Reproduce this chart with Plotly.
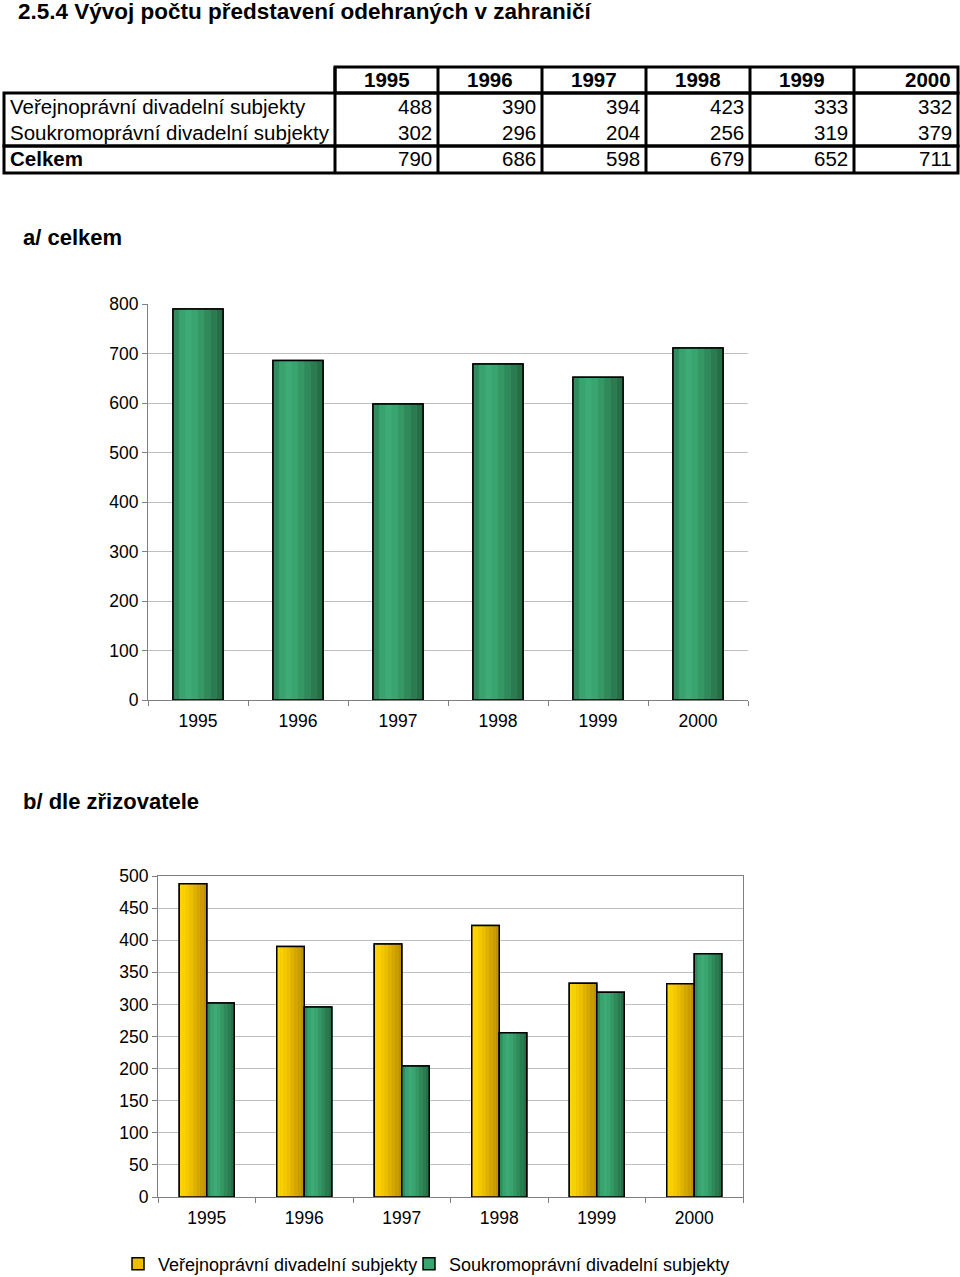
import plotly.graph_objects as go

# data
years = ["1995", "1996", "1997", "1998", "1999", "2000"]
verejne = [488, 390, 394, 423, 333, 332]
soukrome = [302, 296, 204, 256, 319, 379]
celkem = [790, 686, 598, 679, 652, 711]
row_labels = ["Veřejnoprávní divadelní subjekty", "Soukromoprávní divadelní subjekty", "Celkem"]

W, H = 960, 1277
FONT = "Liberation Sans, Arial, sans-serif"
# colour slices to fake the shaded bars (left -> right)
GREEN_SHADES = ["#2F8C5C", "#39A26E", "#3EAB76", "#3AA470", "#349764", "#2F895A", "#2B7B50", "#276E47"]
YELLOW_SHADES = ["#FFD500", "#FBD000", "#F4C800", "#EBBE00", "#E0B200", "#D4A700", "#C89C02", "#BC9104"]


def px(x):
    return x / W


def py(y):
    return 1 - y / H


fig = go.Figure()


def shaded_bar(x, y, offset, width, shades, xa, ya, name=None, legend=None):
    n = len(shades)
    # base (used for the legend)
    fig.add_trace(go.Bar(x=x, y=y, offset=offset, width=width, name=name, showlegend=legend is not None,
                         legend=legend or "legend",
                         marker=dict(color=shades[n // 2 - 1], line=dict(color="black", width=1.5)),
                         xaxis=xa, yaxis=ya, hoverinfo="skip"))
    for i, c in enumerate(shades):
        fig.add_trace(go.Bar(x=x, y=y, offset=offset + width * i / n, width=width / n, showlegend=False,
                             marker=dict(color=c, line=dict(width=0)), xaxis=xa, yaxis=ya, hoverinfo="skip"))
    fig.add_trace(go.Bar(x=x, y=y, offset=offset, width=width, showlegend=False, name=name,
                         marker=dict(color="rgba(0,0,0,0)", line=dict(color="black", width=1.5)),
                         xaxis=xa, yaxis=ya))


# a/ celkem
shaded_bar(years, celkem, -0.25, 0.5, GREEN_SHADES, "x", "y")

# b/ dle zrizovatele
bw = 0.282
shaded_bar(years, verejne, -bw, bw, YELLOW_SHADES, "x2", "y2", row_labels[0], "legend")
shaded_bar(years, soukrome, 0, bw, GREEN_SHADES, "x2", "y2", row_labels[1], "legend2")

axis_common = dict(tickfont=dict(size=17.5, color="black", family=FONT), linecolor="#808080", linewidth=1,
                   ticks="outside", ticklen=5, tickcolor="#808080", fixedrange=True)
leg_common = dict(orientation="h", xanchor="left", yref="container", y=1 - 1264 / H, yanchor="middle",
                  font=dict(size=18, family=FONT, color="black"), itemwidth=30, bgcolor="rgba(0,0,0,0)")

fig.update_layout(
    width=W, height=H, margin=dict(l=0, r=0, t=0, b=0, autoexpand=False),
    paper_bgcolor="white", plot_bgcolor="white",
    font=dict(family=FONT, color="black"),
    barmode="overlay",
    xaxis=dict(domain=[px(148), px(748)], anchor="y", showline=True, tickson="boundaries",
               showgrid=False, ticklabelstandoff=5, **axis_common),
    yaxis=dict(domain=[py(700), py(304)], anchor="x", range=[0, 800], dtick=100, showline=True,
               showgrid=True, gridcolor="#C0C0C0", zeroline=False, **axis_common),
    xaxis2=dict(domain=[px(158), px(743)], anchor="y2", showline=True, mirror=True, tickson="boundaries",
                showgrid=False, ticklabelstandoff=5, **axis_common),
    yaxis2=dict(domain=[py(1197), py(876)], anchor="x2", range=[0, 500], dtick=50, showline=True, mirror=True,
                showgrid=True, gridcolor="#C0C0C0", zeroline=False, **axis_common),
    legend=dict(x=px(118), **leg_common),
    legend2=dict(x=px(409), **leg_common),
)

anns = []
anns.append(dict(text="<b>2.5.4 Vývoj počtu představení odehraných v zahraničí</b>", x=px(16), y=py(12),
                 xanchor="left", yanchor="middle", font=dict(size=22.5)))
anns.append(dict(text="<b>a/ celkem</b>", x=px(21), y=py(238), xanchor="left", yanchor="middle", font=dict(size=22)))
anns.append(dict(text="<b>b/ dle zřizovatele</b>", x=px(21), y=py(801), xanchor="left", yanchor="middle",
                 font=dict(size=22)))

# table geometry
col_edges = [4, 335, 438, 542, 646, 750, 854, 958]
row_mid = [80, 107, 132, 158]
shapes = []
lw = 3
shapes.append(dict(type="rect", x0=px(335), x1=px(958), y0=py(67), y1=py(93)))
shapes.append(dict(type="rect", x0=px(4), x1=px(958), y0=py(93), y1=py(146)))
shapes.append(dict(type="rect", x0=px(4), x1=px(958), y0=py(146), y1=py(173)))
for xe in col_edges[1:-1]:
    shapes.append(dict(type="line", x0=px(xe), x1=px(xe), y0=py(67), y1=py(173)))
for s in shapes:
    s.update(xref="paper", yref="paper", line=dict(color="black", width=lw))

for i, yr in enumerate(years):
    if i < len(years) - 1:
        xx, anchor = px((col_edges[i + 1] + col_edges[i + 2]) / 2), "center"
    else:
        xx, anchor = px(col_edges[i + 2] - 5), "right"
    anns.append(dict(text="<b>%s</b>" % yr, x=xx, y=py(row_mid[0]),
                     xanchor=anchor, yanchor="middle", font=dict(size=20.5)))
for r, vals in enumerate([verejne, soukrome, celkem]):
    lab = row_labels[r] if r < 2 else "<b>%s</b>" % row_labels[r]
    anns.append(dict(text=lab, x=px(8), y=py(row_mid[r + 1]), xanchor="left", yanchor="middle",
                     font=dict(size=20.5)))
    for i, v in enumerate(vals):
        anns.append(dict(text=str(v), x=px(col_edges[i + 2] - 4), y=py(row_mid[r + 1]),
                         xanchor="right", yanchor="middle", font=dict(size=20.5)))

for a in anns:
    a.update(xref="paper", yref="paper", showarrow=False)
    a["font"].update(color="black", family=FONT)

fig.update_layout(annotations=anns, shapes=shapes)
fig.write_html("out.html", config={"displayModeBar": False},
               post_script="document.body.style.margin='0';document.body.style.overflow='hidden';")
